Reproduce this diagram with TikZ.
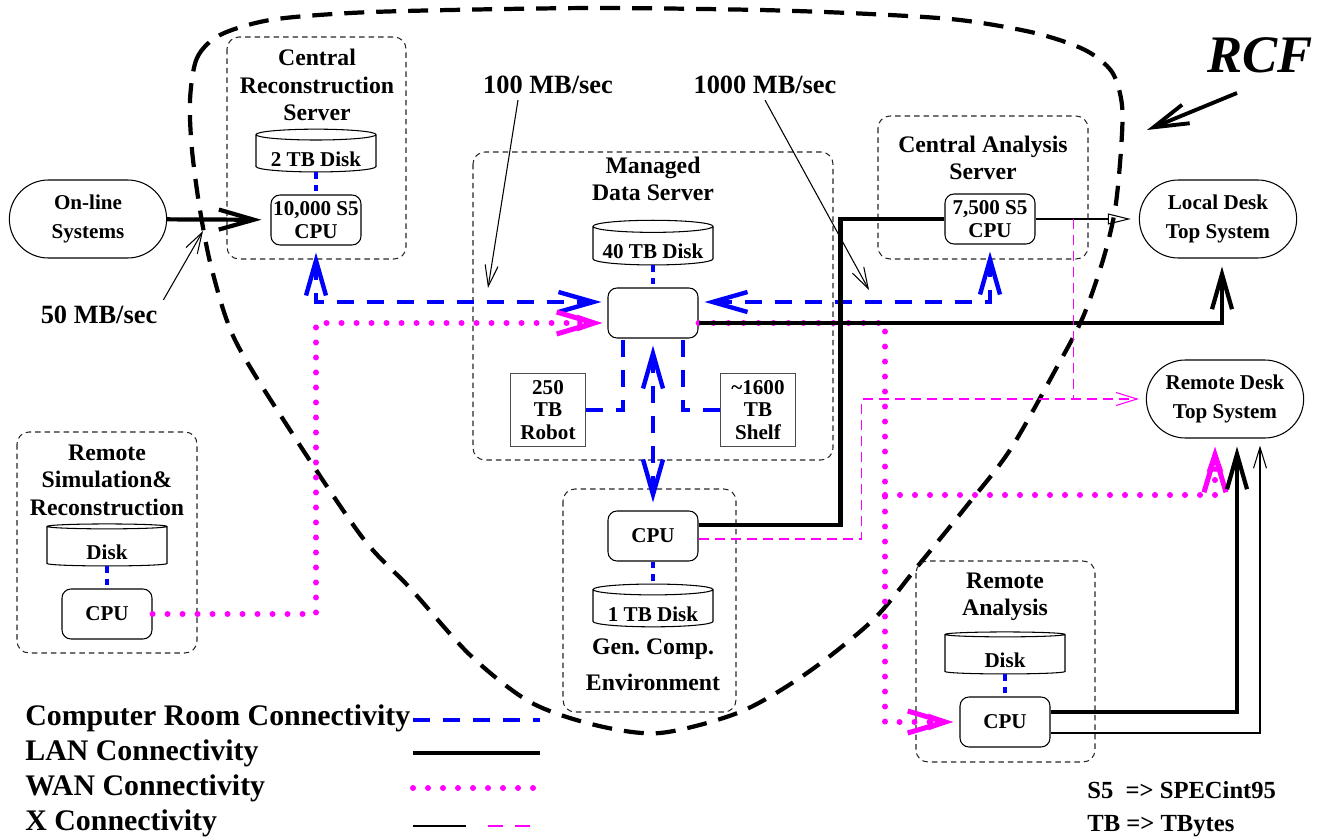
\documentclass[tikz,border=0pt]{standalone}
\usepackage{fontspec}
\setmainfont{Liberation Serif}
\usetikzlibrary{arrows.meta,positioning,shapes.geometric,shapes.misc}

\definecolor{wanpink}{RGB}{255,0,255}

\tikzset{
  bigv/.tip={Straight Barb[length=7mm,width=4mm]},
  thinv/.tip={Straight Barb[length=4.2mm,width=2.6mm]},
  biga/.tip={Straight Barb[length=7.4mm,width=4.4mm,line width=1mm,sep=-5mm]Triangle[open,length=5mm,width=3mm,line width=1mm]},
}

\begin{document}
\begin{tikzpicture}[x=0.2mm,y=-0.2mm,
    cpu/.style={draw, line width=0.6pt, rounded corners=1.8mm, minimum width=18mm, minimum height=10mm,
      align=center, inner sep=1pt, font=\fontsize{12}{13}\selectfont\bfseries},
    disk/.style={draw, line width=0.6pt, cylinder, shape border rotate=90, aspect=0.12,
      minimum width=24mm, minimum height=8.4mm, inner sep=0pt,
      text height=5.2mm, text depth=0pt, font=\fontsize{12}{13}\selectfont\bfseries},
    term/.style={draw, line width=0.6pt, rounded rectangle, minimum width=33.8mm, minimum height=15.6mm,
      align=center, font=\fontsize{12}{17}\selectfont\bfseries},
    store/.style={draw=black!70, line width=0.6pt, minimum width=15mm, minimum height=14.6mm, inner sep=0pt,
      align=center, font=\fontsize{12}{13}\selectfont\bfseries},
    group/.style={draw=black!85, line width=0.6pt, dash pattern=on 1.1mm off 0.8mm, rounded corners=2.4mm},
    grouptitle/.style={align=center, font=\fontsize{13.5}{15.6}\selectfont\bfseries},
    rate/.style={font=\fontsize{15}{18}\selectfont\bfseries},
    legend/.style={anchor=west, inner sep=0pt, font=\fontsize{17}{20}\selectfont\bfseries},
    room/.style={draw=blue, line width=2.5pt, dash pattern=on 3.4mm off 2.6mm},
    lan/.style={draw=black, line width=2.4pt},
    wan/.style={draw=wanpink, line width=1.2mm, line cap=round, dash pattern=on 0pt off 3mm},
    xlink/.style={draw=black, line width=0.6pt},
    xdash/.style={draw=wanpink, line width=0.6pt, dash pattern=on 2mm off 1.2mm},
    pointer/.style={draw=black, line width=0.6pt, -thinv},
    rcfline/.style={draw=black, line width=2.4pt, dash pattern=on 4mm off 2.4mm},
  ]

  \useasboundingbox (0,0) rectangle (1325,837);

  % RCF boundary
  \draw[rcfline] plot[smooth cycle] coordinates {
    (190,100) (197,58) (220,35) (270,20) (350,13) (450,10) (600,8) (760,10) (870,14)
    (960,20) (1035,33) (1085,50) (1112,72) (1122,105) (1121,150) (1115,210) (1103,260)
    (1083,317) (1057,367) (1010,450) (965,508) (917,567) (873,620) (807,673) (740,712)
    (660,733) (595,725) (530,702) (470,655) (410,588) (362,537) (290,430) (235,340)
    (212,270) (200,210) (192,150)};

  % groups
  \draw[group] (227,37) rectangle (406,259);
  \draw[group] (473,152) rectangle (833,460);
  \draw[group] (878,116) rectangle (1088,259);
  \draw[group] (17,432) rectangle (197,653);
  \draw[group] (916,561) rectangle (1095,762);
  \draw[group] (563,489) rectangle (736,712);

  % nodes
  \node[term] (online) at (88,219) {On-line\\Systems};

  \node[grouptitle] (crtitle) at (317,85) {Central\\Reconstruction\\Server};
  \node[cpu] (crcpu) at (316,220) {10,000 S5\\CPU};
  \node[disk, above=4.4mm of crcpu] (crdisk) {2 TB Disk};

  \node[grouptitle] (mdstitle) at (653,179) {Managed\\Data Server};
  \node[cpu] (mds) at (653,313) {};
  \node[disk, above=4.4mm of mds] (mdsdisk) {40 TB Disk};
  \node[store] (robot) at (548,410) {250\\TB\\Robot};
  \node[store] (shelf) at (758,410) {\textasciitilde1600\\TB\\Shelf};

  \node[cpu] (gencpu) at (653,536) {CPU};
  \node[disk, below=4.4mm of gencpu] (gendisk) {1 TB Disk};
  \node[grouptitle] (gentitle) at (653,665) {Gen.\ Comp.\\[1.8mm]Environment};

  \node[grouptitle] (catitle) at (983,158) {Central Analysis\\Server};
  \node[cpu] (cacpu) at (990,219) {7,500 S5\\CPU};

  \node[term] (localdesk) at (1218,219) {Local Desk\\Top System};
  \node[term] (remdesk) at (1225,399) {Remote Desk\\Top System};

  \node[grouptitle] (rstitle) at (107,480) {Remote\\Simulation\&\\Reconstruction};
  \node[cpu] (rscpu) at (107,614) {CPU};
  \node[disk, above=4.4mm of rscpu] (rsdisk) {Disk};

  \node[grouptitle] (ratitle) at (1005,597) {Remote\\Analysis};
  \node[cpu] (racpu) at (1005,722) {CPU};
  \node[disk, above=4.4mm of racpu] (radisk) {Disk};

  % rates
  \node[rate] (rate50) at (99,315) {50 MB/sec};
  \node[rate] (rate100) at (548,85) {100 MB/sec};
  \node[rate] (rate1000) at (765,85) {1000 MB/sec};
  \coordinate (at50) at (203,231);
  \coordinate (at100) at (488,288);
  \coordinate (at1000) at (869,290);
  \draw[pointer] (rate50.north east) -- (at50);
  \draw[pointer] ([xshift=-6mm]rate100.south) -- (at100);
  \draw[pointer] (rate1000.south) -- (at1000);

  \node[font=\fontsize{30}{36}\selectfont\bfseries\itshape] (rcf) at (1260,55) {RCF};
  \coordinate (rcftail) at (1237,93);
  \coordinate (rcftip) at (1147,130);
  \draw[lan, line width=2.2pt, -bigv] (rcftail) -- (rcftip);

  % computer room connectivity
  \draw[room, dash pattern=on 1.3mm off 1.2mm] (crdisk) -- (crcpu);
  \draw[room, dash pattern=on 1.3mm off 1.2mm] (mdsdisk) -- (mds);
  \draw[room, dash pattern=on 1.3mm off 1.2mm] (gencpu) -- (gendisk);
  \draw[room, dash pattern=on 1.3mm off 1.2mm] (rsdisk) -- (rscpu);
  \draw[room, dash pattern=on 1.3mm off 1.2mm] (radisk) -- (racpu);
  \draw[room, bigv-bigv, shorten <=1.4mm, shorten >=1.2mm] (crcpu.south) |- ([yshift=2.2mm]mds.west);
  \draw[room, bigv-bigv, shorten <=1.2mm, shorten >=1.4mm] ([yshift=2.2mm]mds.east) -| (cacpu.south);
  \draw[room, bigv-bigv, shorten <=1.4mm, shorten >=1.6mm] (mds.south) -- (gencpu.north);
  \draw[room] (robot.east) -| ([xshift=-6mm]mds.south);
  \draw[room] (shelf.west) -| ([xshift=6mm]mds.south);

  % WAN connectivity
  \coordinate (wanleft) at (316,323);
  \coordinate (wanright) at (885,495);
  \draw[wan, -biga, shorten >=1mm] (rscpu.east) -| (wanleft) -- (wanleft -| mds.west);
  \draw[wan, -biga, shorten >=1.2mm] ([yshift=-2mm]mds.east) -| (wanright) |- (racpu.west);
  \draw[wan, -biga, shorten >=1.6mm] (wanright) -| ([xshift=-2mm]remdesk.south);

  % LAN connectivity
  \draw[lan, -bigv, shorten >=1.8mm] (online) -- (crcpu);
  \draw[lan] ([yshift=2.2mm]gencpu.east) -| ([xshift=-20.8mm]cacpu.west) -- (cacpu.west);
  \draw[lan, -bigv, shorten >=1.6mm] ([yshift=-2mm]mds.east) -| ([xshift=0.8mm]localdesk.south);
  \draw[lan, -bigv, shorten >=1.6mm] ([yshift=2mm]racpu.east) -| ([xshift=2.4mm]remdesk.south);

  % X connectivity
  \draw[xlink, -{Triangle[open,length=4.6mm,width=2.2mm]}, shorten >=1.6mm] (cacpu.east) -- (localdesk.west);
  \draw[xdash, -thinv, shorten >=1.4mm] ([yshift=-0.6mm]gencpu.east) -| ([xshift=-56.8mm]remdesk.west) -- (remdesk.west);
  \draw[xdash] ([xshift=7.6mm]cacpu.east) -- ([xshift=7.6mm]cacpu.east |- remdesk.west);
  \draw[xlink, -thinv, shorten >=1.4mm] ([yshift=-2.2mm]racpu.east) -| ([xshift=7mm]remdesk.south);

  % legend
  \node[legend] (lgroom) at (25,718) {Computer Room Connectivity};
  \node[legend] (lglan) at (25,753) {LAN Connectivity};
  \node[legend] (lgwan) at (25,788) {WAN Connectivity};
  \node[legend] (lgx) at (25,823) {X Connectivity};
  \draw[room] (413,720) -- (540,720);
  \draw[lan] (413,753) -- (540,753);
  \draw[wan] (413,788) -- (540,788);
  \draw[xlink] (413,826) -- (466,826);
  \draw[xdash, line width=1pt, dash pattern=on 3mm off 2.4mm] (488,826) -- (540,826);

  \node[anchor=west, inner sep=0pt, font=\fontsize{14}{16}\selectfont\bfseries] (keys5) at (1087,790) {S5\ \ => SPECint95};
  \node[anchor=west, inner sep=0pt, font=\fontsize{14}{16}\selectfont\bfseries] (keytb) at (1087,826) {TB => TBytes};

\end{tikzpicture}
\end{document}
